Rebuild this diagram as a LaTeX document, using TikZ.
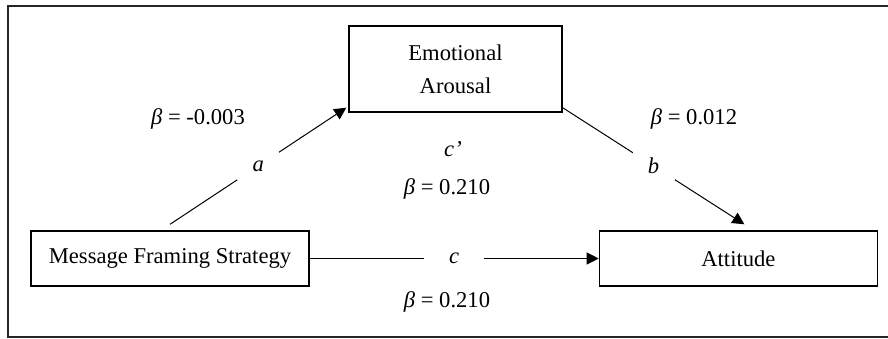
\documentclass[tikz,border=0pt]{standalone}
\usepackage{fontspec}
\setmainfont{Liberation Serif}
\usepackage{tikz}
\usetikzlibrary{positioning,arrows.meta}
\tikzset{
  effect/.style={-{Triangle[length=6pt,width=6pt]}, line width=0.5pt, draw=black},
  every node/.style={anchor=center}
}

\begin{document}
\begin{tikzpicture}[
  x=0.5pt, y=-0.5pt,
  font=\fontsize{11.3}{13.6}\selectfont,
  box/.style={draw=black, fill=white, line width=0.7pt, minimum width=139pt, minimum height=27.5pt, inner sep=0pt, align=center},
  mediator/.style={box, minimum width=106.5pt, minimum height=43pt, font=\fontsize{11.3}{16.5}\selectfont},
  gap/.style={fill=white, inner sep=0pt, minimum width=21pt, minimum height=14pt, font=\fontsize{11.3}{13.6}\itshape},
  coef/.style={inner sep=1pt}
]
\useasboundingbox (0,0) rectangle (888,338);
\draw[line width=1pt, draw=black!85] (888,6) -- (8,6) -- (8,337) -- (888,337);
\node[box] (mfs) at (170,258.5) {Message Framing Strategy};
\node[box, right=144.5pt of mfs] (att) {Attitude};
\node[mediator] (ea) at (455.5,69) {Emotional\\Arousal};
% paths a, b and c
\draw[effect] ([yshift=3pt]mfs.north) -- node[gap] (a) {a} ([xshift=-1pt,yshift=2.5pt]ea.south west);
\draw[effect] ([yshift=2.5pt]ea.south east) -- node[gap] (b) {b} ([xshift=3pt,yshift=3pt]att.north);
\draw[effect] (mfs.east) -- node[gap, minimum width=30pt] (c) {c} (att.west);
% coefficients
\node[coef] (beta-a) at (198,119) {\textit{β} = -0.003};
\node[coef] (beta-b) at (694,119) {\textit{β} = 0.012};
\node[coef, font=\fontsize{11.3}{13.6}\itshape] (cprime) at (453,149) {c’};
\node[coef] (beta-cp) at (447,189) {\textit{β} = 0.210};
\node[coef] (beta-c) at (447,302) {\textit{β} = 0.210};
\end{tikzpicture}
\end{document}
